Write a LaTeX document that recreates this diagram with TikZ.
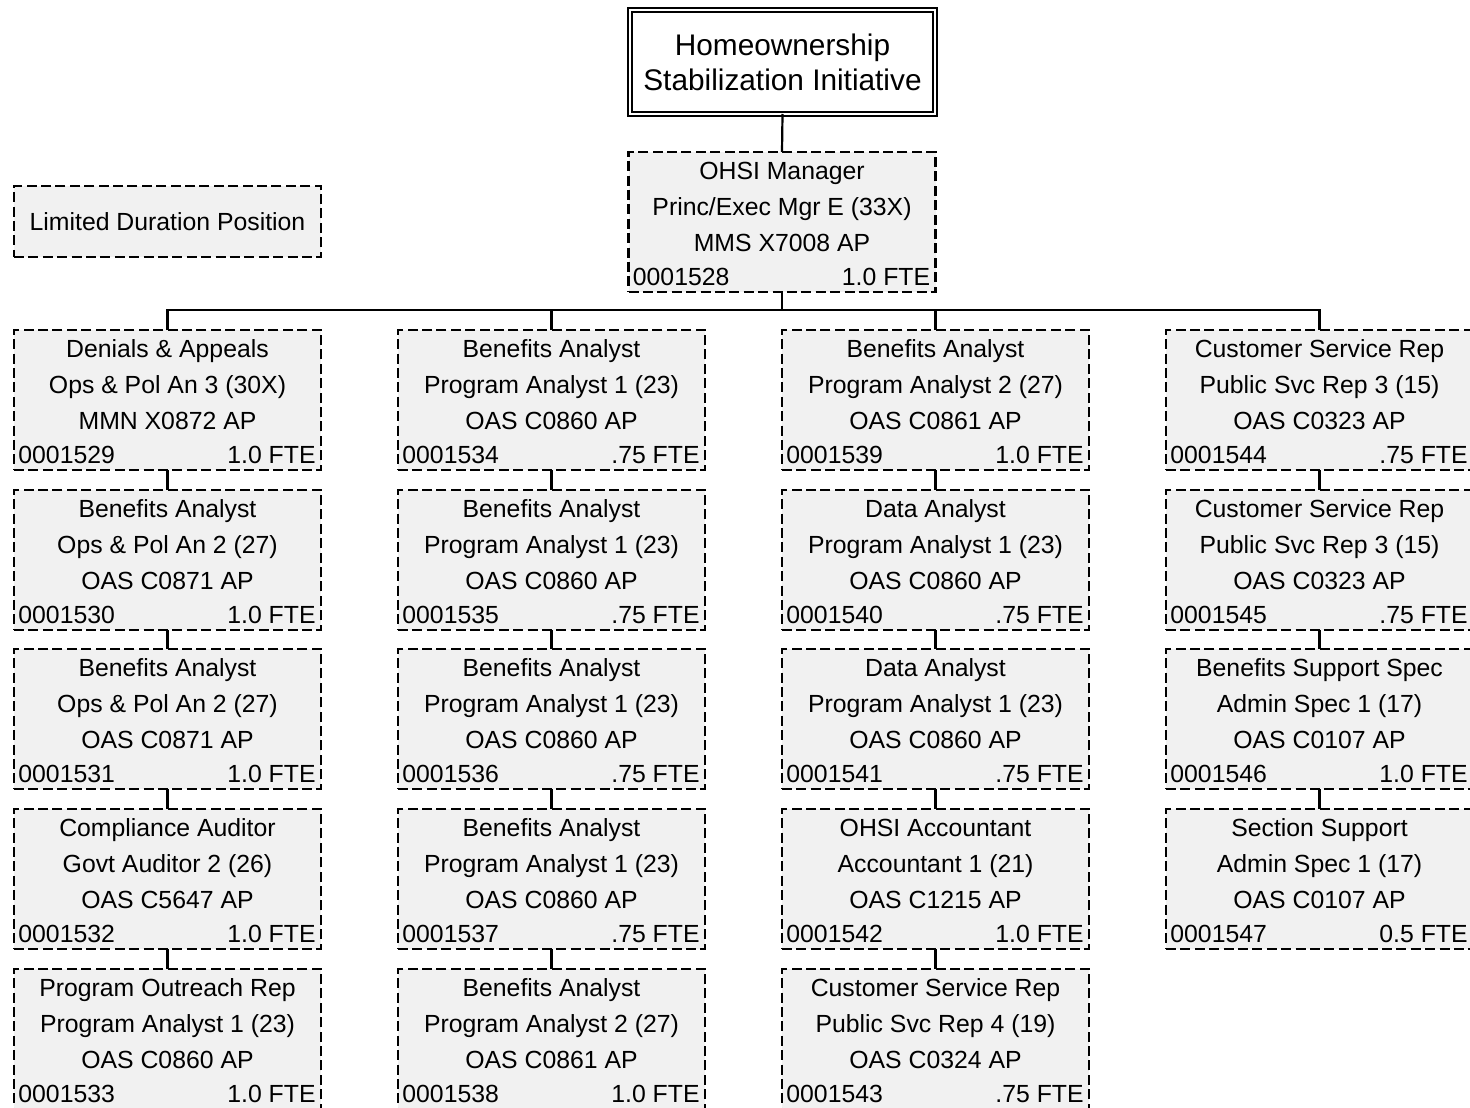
\documentclass[tikz,border=0pt]{standalone}
\usepackage{fontspec}
\setmainfont{Liberation Sans}
\usetikzlibrary{calc}
\definecolor{boxgray}{HTML}{F1F1F1}

\tikzset{
  pbox/.style={draw, fill=boxgray, line width=1.1pt, dash pattern=on 5pt off 2.2pt,
               minimum width=153.5pt, minimum height=70pt, inner sep=0pt, outer sep=0pt},
  ltxt/.style={inner sep=0pt, font=\fontsize{12.4}{14}\selectfont},
  titlebox/.style={draw, fill=white, line width=1pt, double=white, double distance=1.2pt,
               minimum width=152.5pt, minimum height=52pt, inner sep=0pt, outer sep=0pt,
               align=center, font=\fontsize{14.9}{17.5}\selectfont},
  link/.style={line width=1.1pt}
}

% position box: name, left x, top y, title, class, code, position number, FTE
\newcommand\posbox[8]{%
  \node[pbox] (#1) at (#2+153.5,#3+70) {};
  \node[ltxt, anchor=base] at ($(#1.north)+(0,27.5)$) {#4};
  \node[ltxt, anchor=base] at ($(#1.north)+(0,63.5)$) {#5};
  \node[ltxt, anchor=base] at ($(#1.north)+(0,99)$) {#6};
  \node[ltxt, anchor=base west] at ($(#1.north west)+(4,133)$) {#7};
  \node[ltxt, anchor=base east] at ($(#1.north east)+(-5,133)$) {#8};
}

\begin{document}
\begin{tikzpicture}[x=0.5pt,y=-0.5pt]
\useasboundingbox (0,0) rectangle (1470,1107);
\clip (0,0) rectangle (1470,1107);

% program and manager
\node[titlebox] (t) at (782.5,62) {Homeownership\\Stabilization Initiative};
\posbox{m}{628.5}{152}{OHSI Manager}{Princ/Exec Mgr E (33X)}{MMS X7008 AP}{0001528}{1.0 FTE}

% legend
\node[pbox, minimum height=35.5pt] (leg) at (167.5,221.5) {};
\node[ltxt, anchor=base] at ($(leg.center)+(0,8.5)$) {Limited Duration Position};

% column 1
\posbox{a1}{14}{330}{Denials \& Appeals}{Ops \& Pol An 3 (30X)}{MMN X0872 AP}{0001529}{1.0 FTE}
\posbox{a2}{14}{490}{Benefits Analyst}{Ops \& Pol An 2 (27)}{OAS C0871 AP}{0001530}{1.0 FTE}
\posbox{a3}{14}{649}{Benefits Analyst}{Ops \& Pol An 2 (27)}{OAS C0871 AP}{0001531}{1.0 FTE}
\posbox{a4}{14}{809}{Compliance Auditor}{Govt Auditor 2 (26)}{OAS C5647 AP}{0001532}{1.0 FTE}
\posbox{a5}{14}{969}{Program Outreach Rep}{Program Analyst 1 (23)}{OAS C0860 AP}{0001533}{1.0 FTE}

% column 2
\posbox{b1}{398}{330}{Benefits Analyst}{Program Analyst 1 (23)}{OAS C0860 AP}{0001534}{.75 FTE}
\posbox{b2}{398}{490}{Benefits Analyst}{Program Analyst 1 (23)}{OAS C0860 AP}{0001535}{.75 FTE}
\posbox{b3}{398}{649}{Benefits Analyst}{Program Analyst 1 (23)}{OAS C0860 AP}{0001536}{.75 FTE}
\posbox{b4}{398}{809}{Benefits Analyst}{Program Analyst 1 (23)}{OAS C0860 AP}{0001537}{.75 FTE}
\posbox{b5}{398}{969}{Benefits Analyst}{Program Analyst 2 (27)}{OAS C0861 AP}{0001538}{1.0 FTE}

% column 3
\posbox{c1}{782}{330}{Benefits Analyst}{Program Analyst 2 (27)}{OAS C0861 AP}{0001539}{1.0 FTE}
\posbox{c2}{782}{490}{Data Analyst}{Program Analyst 1 (23)}{OAS C0860 AP}{0001540}{.75 FTE}
\posbox{c3}{782}{649}{Data Analyst}{Program Analyst 1 (23)}{OAS C0860 AP}{0001541}{.75 FTE}
\posbox{c4}{782}{809}{OHSI Accountant}{Accountant 1 (21)}{OAS C1215 AP}{0001542}{1.0 FTE}
\posbox{c5}{782}{969}{Customer Service Rep}{Public Svc Rep 4 (19)}{OAS C0324 AP}{0001543}{.75 FTE}

% column 4
\posbox{d1}{1166}{330}{Customer Service Rep}{Public Svc Rep 3 (15)}{OAS C0323 AP}{0001544}{.75 FTE}
\posbox{d2}{1166}{490}{Customer Service Rep}{Public Svc Rep 3 (15)}{OAS C0323 AP}{0001545}{.75 FTE}
\posbox{d3}{1166}{649}{Benefits Support Spec}{Admin Spec 1 (17)}{OAS C0107 AP}{0001546}{1.0 FTE}
\posbox{d4}{1166}{809}{Section Support}{Admin Spec 1 (17)}{OAS C0107 AP}{0001547}{0.5 FTE}

% reporting lines
\coordinate (bus) at (782,310);
\draw[link] (t.south) -- (m.north);
\draw[link] (m.south) -- (bus);
\draw[link] (a1.north) |- (bus);
\draw[link] (d1.north) |- (bus);
\draw[link] (b1.north) -- (b1.north |- bus);
\draw[link] (c1.north) -- (c1.north |- bus);
\foreach \col in {a,b,c}{
  \foreach \i [evaluate=\i as \j using int(\i+1)] in {1,...,4}{
    \draw[link] (\col\i.south) -- (\col\j.north);
  }
}
\foreach \i [evaluate=\i as \j using int(\i+1)] in {1,...,3}{
  \draw[link] (d\i.south) -- (d\j.north);
}
\end{tikzpicture}
\end{document}
